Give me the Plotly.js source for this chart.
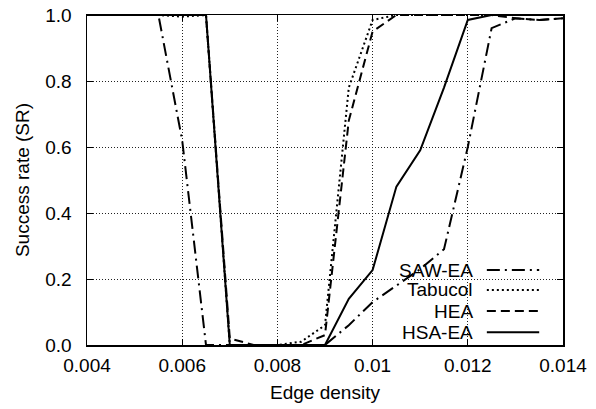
<!DOCTYPE html>
<html>
<head>
<meta charset="utf-8">
<script src="https://cdn.plot.ly/plotly-3.0.1.min.js"></script>
<style>html,body{margin:0;padding:0;background:#fff;}#chart{width:596px;height:409px;}</style>
</head>
<body>
<div id="chart"></div>
<script>
// ---- data ----
const edgeDensity = [0.004,0.0045,0.005,0.0055,0.006,0.0065,0.007,0.0075,0.008,0.0085,0.009,0.0095,0.01,0.0105,0.011,0.0115,0.012,0.0125,0.013,0.0135,0.014];
const sawEA   = [1,1,1,1,0.62,0,0,0,0,0,0,0.06,0.13,0.18,0.23,0.29,0.6,0.96,0.99,0.985,0.99];
const tabucol = [1,1,1,1,0.995,1,0,0,0,0.01,0.06,0.78,0.985,1,1,1,1,1,1,1,1];
const hea     = [1,1,1,1,1,1,0.02,0,0,0,0.03,0.68,0.95,1,1,1,1,1,0.99,0.985,0.99];
const hsaEA   = [1,1,1,1,1,1,0,0,0,0,0,0.14,0.227,0.48,0.59,0.78,0.985,1,1,1,1];
const seriesNames = ["SAW-EA","Tabucol","HEA","HSA-EA"];
const xTickVals = [0.004,0.006,0.008,0.01,0.012,0.014];
const xTickText = ["0.004","0.006","0.008","0.01","0.012","0.014"];
const yTickVals = [0,0.2,0.4,0.6,0.8,1.0];
const yTickText = ["0.0","0.2","0.4","0.6","0.8","1.0"];
const xTitle = "Edge density";
const yTitle = "Success rate (SR)";

// ---- styles ----
const dashes = ["13px,5px,2px,5px","2px,3px","9px,5px","solid"];
const seriesData = [sawEA, tabucol, hea, hsaEA];
const FONT = "Liberation Sans, Arial, Helvetica, sans-serif";
const FS = 19;

const traces = seriesData.map((ys, i) => ({
  type: "scatter", mode: "lines", x: edgeDensity, y: ys, name: seriesNames[i],
  line: {color: "#000", width: 2, dash: dashes[i]}, showlegend: false
}));

// legend drawn manually: text on the left, line sample on the right
const legY = [0.227, 0.167, 0.103, 0.039];
const annotations = seriesNames.map((n, i) => ({
  text: n, xref: "paper", yref: "paper", x: 0.815, y: legY[i],
  xanchor: "right", yanchor: "middle", showarrow: false,
  font: {family: FONT, size: FS, color: "#000"}
}));
const shapes = seriesNames.map((n, i) => ({
  type: "line", xref: "paper", yref: "paper",
  x0: 0.840, x1: 0.950, y0: legY[i], y1: legY[i],
  line: {color: "#000", width: 2, dash: dashes[i]}
}));

const layout = {
  width: 596, height: 409,
  margin: {l: 87, r: 33, t: 15, b: 64},
  paper_bgcolor: "#fff", plot_bgcolor: "#fff",
  font: {family: FONT, size: FS, color: "#000"},
  xaxis: {
    range: [0.004, 0.014], tickvals: xTickVals, ticktext: xTickText,
    ticks: "inside", ticklen: 6, tickcolor: "#000", mirror: "allticks",
    showline: true, linecolor: "#000", linewidth: 1.5,
    showgrid: true, gridcolor: "#222", gridwidth: 1, griddash: "1px,2px",
    zeroline: false, ticklabelstandoff: 3,
    title: {text: xTitle, font: {family: FONT, size: FS}, standoff: 10}
  },
  yaxis: {
    range: [0, 1], tickvals: yTickVals, ticktext: yTickText,
    ticks: "inside", ticklen: 6, tickcolor: "#000", mirror: "allticks",
    showline: true, linecolor: "#000", linewidth: 1.5,
    showgrid: true, gridcolor: "#222", gridwidth: 1, griddash: "1px,2px",
    zeroline: false, ticklabelstandoff: 10,
    title: {text: yTitle, font: {family: FONT, size: FS}, standoff: 10}
  },
  annotations: annotations,
  shapes: shapes,
  showlegend: false
};

Plotly.newPlot("chart", traces, layout, {staticPlot: true, displayModeBar: false});
</script>
</body>
</html>
